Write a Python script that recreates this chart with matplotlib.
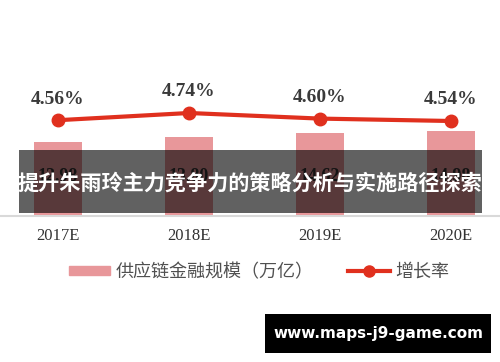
import matplotlib.pyplot as plt
from matplotlib.patches import Patch, Rectangle
from matplotlib.lines import Line2D

years = ['2017E', '2018E', '2019E', '2020E']
scale = [12.98, 13.80, 14.62, 14.98]       # 供应链金融规模（万亿）
growth = [4.56, 4.74, 4.60, 4.54]          # 增长率 (%)

bar_color = '#e8979a'
line_color = '#e0301e'
W, H = 500, 362

fig = plt.figure(figsize=(W / 100, H / 100), dpi=100)
ax = fig.add_axes([0, 1 - 216 / H, 1, 156 / H])
x = list(range(len(years)))

ax.bar(x, scale, width=0.37, color=bar_color, zorder=2)
for xi, v in zip(x, scale):
    # value labels sit low inside the bars (mostly under the banner)
    ax.text(xi, 6.9, f"{v:.2f}", ha='center', va='center',
            family='Liberation Serif', fontweight='bold', fontsize=13, color='#333333')
ax.set_xlim(-58 / 131, (W - 58) / 131)
ax.set_ylim(0, 27.4)
ax.set_xticks(x)
ax.set_xticklabels(years, family='Liberation Serif', fontsize=12, color='#333333')
ax.tick_params(axis='x', length=0, pad=9)
ax.set_yticks([])
for s in ['top', 'left', 'right']:
    ax.spines[s].set_visible(False)
ax.spines['bottom'].set_color('#d9d9d9')
ax.spines['bottom'].set_linewidth(1.5)

ax2 = ax.twinx()
ax2.plot(x, growth, color=line_color, lw=3, marker='o', ms=9, zorder=3)
for xi, g in zip(x, growth):
    ax2.annotate(f"{g:.2f}%", (xi, g), xytext=(0, 9), textcoords='offset points',
                 ha='center', va='bottom', family='Liberation Serif',
                 fontweight='bold', fontsize=14, color='#3a3a3a')
ax2.set_ylim(2.165, 6.065)
ax2.set_yticks([])
for s in ax2.spines.values():
    s.set_visible(False)

handles = [Patch(color=bar_color),
           Line2D([], [], color=line_color, lw=3, marker='o', ms=8)]
labels = ['供应链金融规模（万亿）', '增长率']
fig.legend(handles, labels, loc='center', bbox_to_anchor=(259 / W, 1 - 272 / H),
           ncol=2, frameon=False, handlelength=2.3, handleheight=0.45,
           handletextpad=0.3, columnspacing=1.9,
           prop={'family': ['Noto Sans CJK SC', 'DejaVu Sans'], 'size': 13},
           labelcolor='#505050')

# title banner over the chart
fig.patches.append(Rectangle((19 / W, 1 - 213 / H), 463 / W, 63 / H,
                             transform=fig.transFigure, facecolor='black',
                             linewidth=0, alpha=0.62, zorder=5))
fig.text(0.5, 1 - 183 / H, '提升朱雨玲主力竞争力的策略分析与实施路径探索',
         ha='center', va='center', color='white', fontsize=15.2, fontweight='bold',
         family=['Noto Sans CJK SC', 'DejaVu Sans'], zorder=6)

# watermark
fig.patches.append(Rectangle((265 / W, 1 - 353 / H), 226 / W, 39 / H,
                             transform=fig.transFigure, facecolor='black',
                             linewidth=0, zorder=5))
fig.text(378 / W, 1 - 333.5 / H, 'www.maps-j9-game.com', ha='center', va='center',
         color='white', fontsize=11, fontweight='bold', family='DejaVu Sans', zorder=6)

fig.savefig('out.png', dpi=100)
